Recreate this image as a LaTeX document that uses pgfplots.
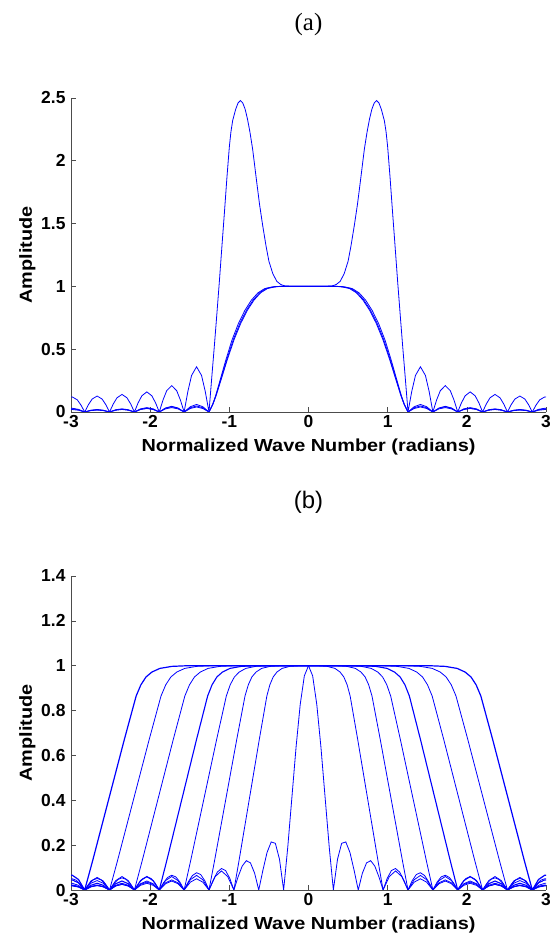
\documentclass[border=0pt]{standalone}
\usepackage{fontspec}
\setmainfont{Liberation Sans}
\newfontfamily\lblfont{Liberation Sans}[FakeStretch=1.14]
\newfontfamily\serifft{Liberation Serif}
\usepackage{pgfplots}
\usepackage{pgfplotstable}
\pgfplotsset{compat=1.18}
\definecolor{mblue}{rgb}{0,0,1}

% ---------- panel (a): right halves (curves are symmetric) ----------
\pgfplotstableread{
x y
0 1.0
0.2 1.0
0.3 1.004
0.35 1.015
0.4 1.04
0.45 1.10
0.5 1.2
0.536 1.32
0.58 1.49
0.62 1.66
0.662 1.87
0.705 2.09
0.74 2.23
0.77 2.33
0.80 2.41
0.83 2.46
0.86 2.48
0.89 2.46
0.92 2.41
0.958 2.32
0.98 2.23
1.0 2.11
1.03 1.87
1.063 1.58
1.09 1.35
1.127 1.03
1.16 0.76
1.19 0.52
1.22 0.29
1.257 0
1.304 0.163
1.351 0.291
1.414 0.36
1.477 0.291
1.524 0.163
1.571 0
1.618 0.095
1.665 0.170
1.728 0.21
1.791 0.170
1.838 0.095
1.885 0
1.932 0.073
1.979 0.129
2.042 0.16
2.105 0.129
2.152 0.073
2.199 0
2.246 0.064
2.293 0.113
2.356 0.14
2.419 0.113
2.466 0.064
2.513 0
2.560 0.058
2.607 0.103
2.670 0.127
2.733 0.103
2.780 0.058
2.827 0
2.874 0.055
2.921 0.097
2.984 0.12
3.0 0.119
}\tPeak

\pgfplotstableread{
x y
0 1
0.35 1.0
0.40 0.999
0.45 0.995
0.528 0.985
0.613 0.952
0.697 0.894
0.78 0.814
0.865 0.709
0.95 0.576
1.033 0.416
1.117 0.24
1.17 0.13
1.21 0.06
1.257 0
1.335 0.034
1.414 0.048
1.492 0.034
1.571 0
1.649 0.030
1.728 0.042
1.806 0.030
1.885 0
1.963 0.025
2.042 0.035
2.121 0.025
2.199 0
2.277 0.018
2.356 0.025
2.435 0.018
2.513 0
2.592 0.014
2.670 0.02
2.749 0.014
2.827 0
2.906 0.018
2.985 0.025
3.0 0.025
}\tBa

\pgfplotstableread{
x y
0 1
0.37 1.0
0.43 0.998
0.48 0.993
0.555 0.982
0.64 0.948
0.722 0.89
0.803 0.81
0.885 0.705
0.967 0.572
1.046 0.41
1.125 0.235
1.175 0.125
1.212 0.058
1.257 0
1.335 0.042
1.414 0.06
1.492 0.042
1.571 0
1.649 0.032
1.728 0.045
1.806 0.032
1.885 0
1.963 0.021
2.042 0.03
2.121 0.021
2.199 0
2.277 0.016
2.356 0.022
2.435 0.016
2.513 0
2.592 0.013
2.670 0.018
2.749 0.013
2.827 0
2.906 0.021
2.985 0.03
3.0 0.03
}\tBb

\pgfplotstableread{
x y
0 1
0.34 1.0
0.39 0.998
0.44 0.994
0.518 0.983
0.603 0.95
0.687 0.892
0.77 0.812
0.855 0.707
0.94 0.576
1.025 0.418
1.11 0.245
1.165 0.135
1.207 0.062
1.257 0
1.335 0.028
1.414 0.04
1.492 0.028
1.571 0
1.649 0.025
1.728 0.035
1.806 0.025
1.885 0
1.963 0.020
2.042 0.028
2.121 0.020
2.199 0
2.277 0.014
2.356 0.02
2.435 0.014
2.513 0
2.592 0.011
2.670 0.015
2.749 0.011
2.827 0
2.906 0.014
2.985 0.02
3.0 0.02
}\tBc

% ---------- panel (b): right halves ----------
\pgfplotstableread{
x y
0 1
0.05236 0.955
0.10472 0.827
0.15708 0.637
0.20944 0.414
0.2618 0.1915
0.31416 0
0.36652 0.1372
0.41888 0.2083
0.47124 0.2142
0.5236 0.1673
0.57596 0.0880
0.62832 0
0.68068 0.0749
0.73304 0.1208
0.7854 0.1307
0.83776 0.1065
0.89012 0.0581
0.94248 0
0.99484 0.0524
1.0472 0.0866
1.09956 0.0957
1.15192 0.0795
1.20428 0.0441
1.25664 0
1.309 0.0411
1.36136 0.0688
1.41372 0.0770
1.46608 0.0647
1.51844 0.0363
1.5708 0
1.62316 0.0345
1.67552 0.0583
1.72788 0.0658
1.78024 0.0557
1.8326 0.0315
1.88496 0
1.93732 0.0303
1.98968 0.0516
2.04204 0.0586
2.0944 0.0500
2.14676 0.0284
2.19911 0
2.25147 0.0277
2.30383 0.0474
2.35619 0.0541
2.40855 0.0464
2.46091 0.0265
2.51327 0
2.56563 0.0261
2.61799 0.0448
2.67035 0.0514
2.72271 0.0443
2.77507 0.0254
2.82743 0
2.87979 0.0252
2.93215 0.0435
2.98451 0.0502
3.0 0.0495
}\tDir

\pgfplotstableread{
x y
0 1
0.110 1.0
0.238 0.997
0.334 0.988
0.398 0.972
0.446 0.95
0.488 0.915
0.526 0.865
0.558 0.8
0.590 0.735
0.622 0.67
0.686 0.535
0.750 0.40
0.814 0.265
0.878 0.13
0.910 0.065
0.942 0
1.021 0.060
1.100 0.085
1.178 0.060
1.257 0
1.335 0.035
1.414 0.05
1.492 0.035
1.571 0
1.649 0.028
1.728 0.04
1.806 0.028
1.885 0
1.963 0.021
2.042 0.03
2.121 0.021
2.199 0
2.277 0.018
2.356 0.025
2.435 0.018
2.513 0
2.592 0.014
2.670 0.02
2.749 0.014
2.827 0
2.906 0.014
2.985 0.02
3.0 0.02
}\tCb

\pgfplotstableread{
x y
0 1
0.347 1.0
0.487 0.997
0.592 0.988
0.662 0.972
0.715 0.95
0.760 0.915
0.802 0.865
0.837 0.8
0.872 0.735
0.907 0.67
0.977 0.535
1.047 0.40
1.117 0.265
1.187 0.13
1.222 0.065
1.257 0
1.335 0.046
1.414 0.065
1.492 0.046
1.571 0
1.649 0.032
1.728 0.045
1.806 0.032
1.885 0
1.963 0.025
2.042 0.035
2.121 0.025
2.199 0
2.277 0.018
2.356 0.025
2.435 0.018
2.513 0
2.592 0.014
2.670 0.02
2.749 0.014
2.827 0
2.906 0.021
2.985 0.03
3.0 0.03
}\tCc

\pgfplotstableread{
x y
0 1
0.505 1.0
0.669 0.997
0.792 0.988
0.874 0.972
0.936 0.95
0.989 0.915
1.038 0.865
1.079 0.8
1.120 0.735
1.161 0.67
1.243 0.535
1.325 0.40
1.407 0.265
1.489 0.13
1.530 0.065
1.571 0
1.649 0.042
1.728 0.06
1.806 0.042
1.885 0
1.963 0.028
2.042 0.04
2.121 0.028
2.199 0
2.277 0.021
2.356 0.03
2.435 0.021
2.513 0
2.592 0.016
2.670 0.022
2.749 0.016
2.827 0
2.906 0.013
2.985 0.018
3.0 0.018
}\tCd

\pgfplotstableread{
x y
0 1
0.663 1.0
0.851 0.997
0.992 0.988
1.086 0.972
1.157 0.95
1.218 0.915
1.274 0.865
1.321 0.8
1.368 0.735
1.415 0.67
1.509 0.535
1.603 0.40
1.697 0.265
1.791 0.13
1.838 0.065
1.885 0
1.963 0.042
2.042 0.06
2.121 0.042
2.199 0
2.277 0.028
2.356 0.04
2.435 0.028
2.513 0
2.592 0.021
2.670 0.03
2.749 0.021
2.827 0
2.906 0.016
2.985 0.022
3.0 0.022
}\tCe

\pgfplotstableread{
x y
0 1
0.925 1.0
1.121 0.997
1.268 0.988
1.366 0.972
1.440 0.95
1.503 0.915
1.562 0.865
1.611 0.8
1.660 0.735
1.709 0.67
1.807 0.535
1.905 0.40
2.003 0.265
2.101 0.13
2.150 0.065
2.199 0
2.277 0.042
2.356 0.06
2.435 0.042
2.513 0
2.592 0.03
2.670 0.042
2.749 0.03
2.827 0
2.906 0.032
2.985 0.045
3.0 0.045
}\tCf

\pgfplotstableread{
x y
0 1
1.213 1.0
1.413 0.997
1.563 0.988
1.663 0.972
1.738 0.95
1.803 0.915
1.863 0.865
1.913 0.8
1.963 0.735
2.013 0.67
2.113 0.535
2.213 0.40
2.313 0.265
2.413 0.13
2.463 0.065
2.513 0
2.592 0.04
2.670 0.056
2.749 0.04
2.827 0
2.906 0.032
2.985 0.045
3.0 0.045
}\tCg

\pgfplotstableread{
x y
0 1
1.527 1.0
1.727 0.997
1.877 0.988
1.977 0.972
2.052 0.95
2.117 0.915
2.177 0.865
2.227 0.8
2.277 0.735
2.327 0.67
2.427 0.535
2.527 0.40
2.627 0.265
2.727 0.13
2.777 0.065
2.827 0
2.906 0.047
2.985 0.066
3.0 0.066
}\tCh

\pgfplotsset{
  myax/.style={
    scale only axis, width=475bp, height=314bp,
    xmin=-3, xmax=3, ymin=0,
    axis x line=bottom, axis y line=left,
    axis line style={-, black!70, line width=0.6bp},
    tick align=inside, major tick length=5bp,
    tick style={black!70, line width=0.6bp},
    xtick={-3,-2,-1,0,1,2,3},
    xticklabels={-3,-2,-1,0,1,2,3},
    ticklabel style={font=\fontsize{17.5}{20}\selectfont\bfseries},
    yticklabel style={xshift=-2bp},
    xlabel={Normalized Wave Number (radians)},
    xlabel style={at={(axis description cs:0.5,0)}, anchor=base, yshift=-39.7bp,
      font=\lblfont\bfseries\fontsize{17.5}{20}\selectfont},
    ylabel={Amplitude},
    ylabel style={at={(axis description cs:-0.0821,0.5)}, anchor=base,
      font=\lblfont\bfseries\fontsize{17.5}{20}\selectfont},
    every axis plot/.append style={line width=0.8bp},
    every axis plot post/.append style={mblue, solid, mark=none},
  },
}

\begin{document}
\begin{tikzpicture}
\path[use as bounding box] (0,0) rectangle (550bp,935bp);

% ----- panel (a) -----
\begin{axis}[myax, at={(71bp,523bp)}, anchor=south west,
  ymax=2.5, ytick={0,0.5,1,1.5,2,2.5}, yticklabels={0,0.5,1,1.5,2,2.5},
  title={(a)}, title style={at={(axis description cs:0.5,1)}, anchor=base,
    yshift=61.5bp, font=\serifft\fontsize{25}{28}\selectfont}]
\addplot table[x=x, y=y] {\tPeak};
\addplot table[x expr=-\thisrow{x}, y=y] {\tPeak};
\addplot table[x=x, y=y] {\tBa};
\addplot table[x expr=-\thisrow{x}, y=y] {\tBa};
\addplot table[x=x, y=y] {\tBb};
\addplot table[x expr=-\thisrow{x}, y=y] {\tBb};
\addplot table[x=x, y=y] {\tBc};
\addplot table[x expr=-\thisrow{x}, y=y] {\tBc};
\end{axis}

% ----- panel (b) -----
\begin{axis}[myax, at={(71bp,45bp)}, anchor=south west,
  ymax=1.4, ytick={0,0.2,0.4,0.6,0.8,1,1.2,1.4},
  yticklabels={0,0.2,0.4,0.6,0.8,1,1.2,1.4},
  title={(b)}, title style={at={(axis description cs:0.5,1)}, anchor=base,
    yshift=62bp, font=\fontsize{24}{28}\selectfont}]
\addplot table[x=x, y=y] {\tDir};
\addplot table[x expr=-\thisrow{x}, y=y] {\tDir};
\addplot table[x=x, y=y] {\tCb};
\addplot table[x expr=-\thisrow{x}, y=y] {\tCb};
\addplot table[x=x, y=y] {\tCc};
\addplot table[x expr=-\thisrow{x}, y=y] {\tCc};
\addplot table[x=x, y=y] {\tCd};
\addplot table[x expr=-\thisrow{x}, y=y] {\tCd};
\addplot+[line width=1.1bp] table[x=x, y=y] {\tCe};
\addplot+[line width=1.1bp] table[x expr=-\thisrow{x}, y=y] {\tCe};
\addplot table[x=x, y=y] {\tCf};
\addplot table[x expr=-\thisrow{x}, y=y] {\tCf};
\addplot table[x=x, y=y] {\tCg};
\addplot table[x expr=-\thisrow{x}, y=y] {\tCg};
\addplot+[line width=1.2bp] table[x=x, y=y] {\tCh};
\addplot+[line width=1.2bp] table[x expr=-\thisrow{x}, y=y] {\tCh};
\end{axis}
\end{tikzpicture}
\end{document}
